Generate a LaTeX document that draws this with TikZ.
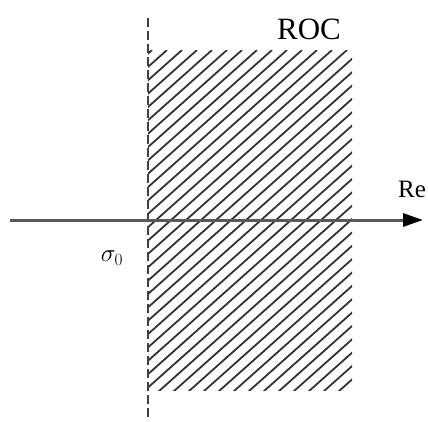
\documentclass[tikz,border=0pt]{standalone}
\usepackage{fontspec}
\setmainfont{Liberation Serif}
\usetikzlibrary{arrows.meta}
\begin{document}
\begin{tikzpicture}[x=1pt,y=-1pt,
  hatchline/.style={line width=1.8pt,black!80},
  axisline/.style={line width=3pt,black!65,-{Triangle[length=20pt,width=13pt,black]}},
  boundary/.style={line width=1.8pt,black!75,dash pattern=on 9pt off 4pt},
  lbl/.style={inner sep=0pt,anchor=center}]
\useasboundingbox (0,0) rectangle (428,421);
% hatched region
\begin{scope}
  \clip (148,50) rectangle (352,390);
  \foreach \k in {0,...,40}{
    \draw[hatchline] ({152+\k*15-420},{50+374}) -- ({152+\k*15},50);
  }
\end{scope}
% dashed boundary
\coordinate (dtop) at (148,18);
\coordinate (dbot) at (148,421);
\draw[boundary] (dtop) -- (dbot);
% axis
\coordinate (ax0) at (10,220);
\coordinate (ax1) at (423,220);
\draw[axisline] (ax0) -- (ax1);
% labels
\node[lbl,font=\fontsize{31}{31}\selectfont] (roc) at (309,29) {ROC};
\node[lbl,font=\fontsize{25}{25}\selectfont] (re) at (412,189) {Re};
\node[lbl,font=\fontsize{26}{26}\selectfont] (sig) at (112,258) {$\sigma_0$};
\end{tikzpicture}
\end{document}
